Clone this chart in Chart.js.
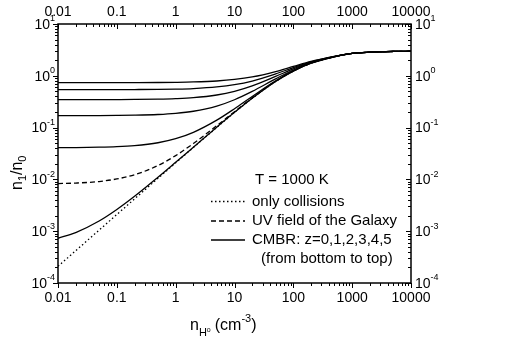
<!DOCTYPE html>
<html>
<head>
<meta charset="utf-8">
<script src="https://cdn.jsdelivr.net/npm/chart.js@4.4.1/dist/chart.umd.min.js"></script>
<style>
  html, body { margin: 0; padding: 0; background: #fff; }
  #chart { display: block; background: #fff; }
</style>
</head>
<body>
<canvas id="chart" width="518" height="361"></canvas>
<script>
// --- dados (densidade em cm^-3, razão n1/n0) ---
const densities = [0.01, 0.02, 0.05, 0.1, 0.2, 0.5, 1, 2, 5, 10, 20, 50, 100, 200, 500, 1000, 2000, 5000, 10000];

const onlyCollisions = [2.1e-4, 4.2e-4, 1.05e-3, 2.1e-3, 4.2e-3, 0.0105, 0.0209, 0.0414, 0.101, 0.196, 0.368, 0.777, 1.23, 1.75, 2.33, 2.70, 2.85, 2.95, 2.98];
const uvGalaxy       = [0.0083, 0.0085, 0.0091, 0.0102, 0.0123, 0.0185, 0.0288, 0.0493, 0.109, 0.203, 0.375, 0.782, 1.24, 1.75, 2.33, 2.70, 2.85, 2.95, 2.98];
const cmbrZ0 = [7.3e-4, 9.4e-4, 1.57e-3, 2.62e-3, 4.71e-3, 0.0110, 0.0214, 0.0419, 0.102, 0.197, 0.369, 0.778, 1.235, 1.75, 2.33, 2.70, 2.85, 2.95, 2.98];
const cmbrZ1 = [0.041, 0.0412, 0.0418, 0.0428, 0.0449, 0.0510, 0.0611, 0.0811, 0.1395, 0.232, 0.400, 0.800, 1.248, 1.757, 2.335, 2.70, 2.85, 2.95, 2.98];
const cmbrZ2 = [0.170, 0.1702, 0.1707, 0.1717, 0.1736, 0.1791, 0.1884, 0.2067, 0.260, 0.345, 0.500, 0.872, 1.295, 1.780, 2.342, 2.70, 2.85, 2.95, 2.98];
const cmbrZ3 = [0.346, 0.3462, 0.3467, 0.3476, 0.3492, 0.354, 0.3622, 0.378, 0.426, 0.501, 0.638, 0.973, 1.360, 1.814, 2.352, 2.71, 2.85, 2.95, 2.98];
const cmbrZ4 = [0.540, 0.5401, 0.5406, 0.5414, 0.5431, 0.547, 0.554, 0.568, 0.609, 0.673, 0.793, 1.089, 1.436, 1.855, 2.364, 2.71, 2.86, 2.95, 2.98];
const cmbrZ5 = [0.736, 0.7361, 0.7364, 0.7369, 0.7382, 0.7417, 0.748, 0.760, 0.794, 0.850, 0.952, 1.209, 1.518, 1.899, 2.378, 2.72, 2.86, 2.95, 2.98];

// rótulos dos eixos
const xTickValues = [0.01, 0.1, 1, 10, 100, 1000, 10000];
const xTickLabels = ['0.01', '0.1', '1', '10', '100', '1000', '10000'];
const yTickExponents = [-4, -3, -2, -1, 0, 1];

const legendTitle = 'T = 1000 K';
const legendLabels = ['only collisions', 'UV field of the Galaxy', 'CMBR: z=0,1,2,3,4,5'];
const legendNote = '(from bottom to top)';

const FONT = '"Liberation Sans", Arial, Helvetica, sans-serif';

const toPoints = ys => densities.map((x, i) => ({ x, y: ys[i] }));

const lineStyle = (ys, dash) => ({
    data: toPoints(ys),
    borderColor: '#000',
    borderWidth: 1.3,
    borderDash: dash,
    pointRadius: 0,
    fill: false,
    cubicInterpolationMode: 'monotone',
});

/** escreve "10" com expoente sobrescrito */
const drawPow = (ctx, x, y, exp, align) => {
    ctx.font = '14px ' + FONT;
    const wBase = ctx.measureText('10').width;
    ctx.font = '9px ' + FONT;
    const sup = String(exp);
    const wSup = ctx.measureText(sup).width;
    const start = align === 'right' ? x - wBase - wSup : x;
    ctx.textAlign = 'left';
    ctx.textBaseline = 'middle';
    ctx.font = '14px ' + FONT;
    ctx.fillText('10', start, y + 1);
    ctx.font = '9px ' + FONT;
    ctx.fillText(sup, start + wBase, y - 5);
};

// Plugin que desenha moldura, ticks, rótulos, títulos e legenda
const decorations = {
    id: 'decorations',
    afterDraw(chart) {
        const ctx = chart.ctx;
        const a = chart.chartArea;
        const sx = chart.scales.x;
        const sy = chart.scales.y;
        ctx.save();
        ctx.strokeStyle = '#000';
        ctx.fillStyle = '#000';

        // moldura
        ctx.lineWidth = 1.5;
        ctx.strokeRect(a.left, a.top, a.right - a.left, a.bottom - a.top);

        // ticks
        ctx.lineWidth = 1;
        ctx.beginPath();
        for (let d = -2; d <= 4; d++) {
            for (let m = 1; m <= 9; m++) {
                const v = m * Math.pow(10, d);
                if (v > 10000 * 1.0001) break;
                const px = Math.round(sx.getPixelForValue(v)) + 0.5;
                const len = m === 1 ? 5 : 3;
                ctx.moveTo(px, a.bottom); ctx.lineTo(px, a.bottom + len);
                ctx.moveTo(px, a.top); ctx.lineTo(px, a.top + len);
            }
        }
        for (let d = -4; d <= 1; d++) {
            for (let m = 1; m <= 9; m++) {
                const v = m * Math.pow(10, d);
                if (v > 10 * 1.0001) break;
                const py = Math.round(sy.getPixelForValue(v)) + 0.5;
                const len = m === 1 ? 5 : 3;
                ctx.moveTo(a.left - len, py); ctx.lineTo(a.left, py);
                ctx.moveTo(a.right - len, py); ctx.lineTo(a.right, py);
            }
        }
        ctx.stroke();

        // rótulos do eixo x (embaixo e em cima)
        ctx.font = '14px ' + FONT;
        ctx.textAlign = 'center';
        ctx.textBaseline = 'middle';
        xTickValues.forEach((v, i) => {
            const px = sx.getPixelForValue(v);
            ctx.fillText(xTickLabels[i], px, a.bottom + 15);
            ctx.fillText(xTickLabels[i], px, a.top - 12);
        });

        // rótulos do eixo y (esquerda e direita)
        yTickExponents.forEach(e => {
            const py = sy.getPixelForValue(Math.pow(10, e));
            drawPow(ctx, a.left - 3, py, e, 'right');
            drawPow(ctx, a.right + 4, py, e, 'left');
        });

        // título do eixo x: n_H° (cm^-3)
        ctx.textAlign = 'left';
        ctx.textBaseline = 'alphabetic';
        let cx = 190;
        const base = 330;
        ctx.font = '16px ' + FONT;
        ctx.fillText('n', cx, base); cx += ctx.measureText('n').width;
        ctx.font = '11px ' + FONT;
        ctx.fillText('H', cx, base + 6); cx += ctx.measureText('H').width;
        ctx.font = '7px ' + FONT;
        ctx.fillText('o', cx, base + 2); cx += ctx.measureText('o').width + 4;
        ctx.font = '16px ' + FONT;
        ctx.fillText('(cm', cx, base); cx += ctx.measureText('(cm').width;
        ctx.font = '11px ' + FONT;
        ctx.fillText('-3', cx, base - 8); cx += ctx.measureText('-3').width;
        ctx.font = '16px ' + FONT;
        ctx.fillText(')', cx, base);

        // título do eixo y: n1/n0 (girado)
        ctx.save();
        ctx.translate(22, 160);
        ctx.rotate(-Math.PI / 2);
        let ty = -30;
        ctx.font = '16px ' + FONT;
        ctx.fillText('n', ty, 0); ty += ctx.measureText('n').width;
        ctx.font = '11px ' + FONT;
        ctx.fillText('1', ty, 4); ty += ctx.measureText('1').width;
        ctx.font = '16px ' + FONT;
        ctx.fillText('/n', ty, 0); ty += ctx.measureText('/n').width;
        ctx.font = '11px ' + FONT;
        ctx.fillText('0', ty, 4);
        ctx.restore();

        // legenda
        ctx.font = '15px ' + FONT;
        ctx.textBaseline = 'middle';
        ctx.fillText(legendTitle, 255, 180);
        const rows = [201.5, 221, 240];
        const dashes = [[1.5, 2.5], [5, 3], []];
        rows.forEach((ry, i) => {
            ctx.lineWidth = 1.3;
            ctx.setLineDash(dashes[i]);
            ctx.beginPath();
            ctx.moveTo(211, ry); ctx.lineTo(245, ry);
            ctx.stroke();
            ctx.setLineDash([]);
            ctx.fillText(legendLabels[i], 252, ry);
        });
        ctx.fillText(legendNote, 261, 259);

        ctx.restore();
    }
};

const hiddenAxis = (type, position, min, max, fit) => ({
    type,
    position,
    min,
    max,
    grid: { display: false },
    border: { display: false },
    ticks: { display: false },
    afterFit: fit,
});

new Chart(document.getElementById('chart'), {
    type: 'line',
    data: {
        datasets: [
            lineStyle(onlyCollisions, [1.5, 2.5]),
            lineStyle(uvGalaxy, [5, 3]),
            lineStyle(cmbrZ0, []),
            lineStyle(cmbrZ1, []),
            lineStyle(cmbrZ2, []),
            lineStyle(cmbrZ3, []),
            lineStyle(cmbrZ4, []),
            lineStyle(cmbrZ5, []),
        ]
    },
    options: {
        responsive: false,
        animation: false,
        devicePixelRatio: 1,
        layout: { padding: 0 },
        plugins: { legend: { display: false }, tooltip: { enabled: false } },
        scales: {
            x: hiddenAxis('logarithmic', 'bottom', 0.01, 10000, s => { s.height = 78; }),
            x2: Object.assign(hiddenAxis('logarithmic', 'top', 0.01, 10000, s => { s.height = 24; }), { axis: 'x' }),
            y: hiddenAxis('logarithmic', 'left', 1e-4, 10, s => { s.width = 58; }),
            y2: Object.assign(hiddenAxis('logarithmic', 'right', 1e-4, 10, s => { s.width = 107; }), { axis: 'y' }),
        }
    },
    plugins: [decorations]
});
</script>
</body>
</html>
